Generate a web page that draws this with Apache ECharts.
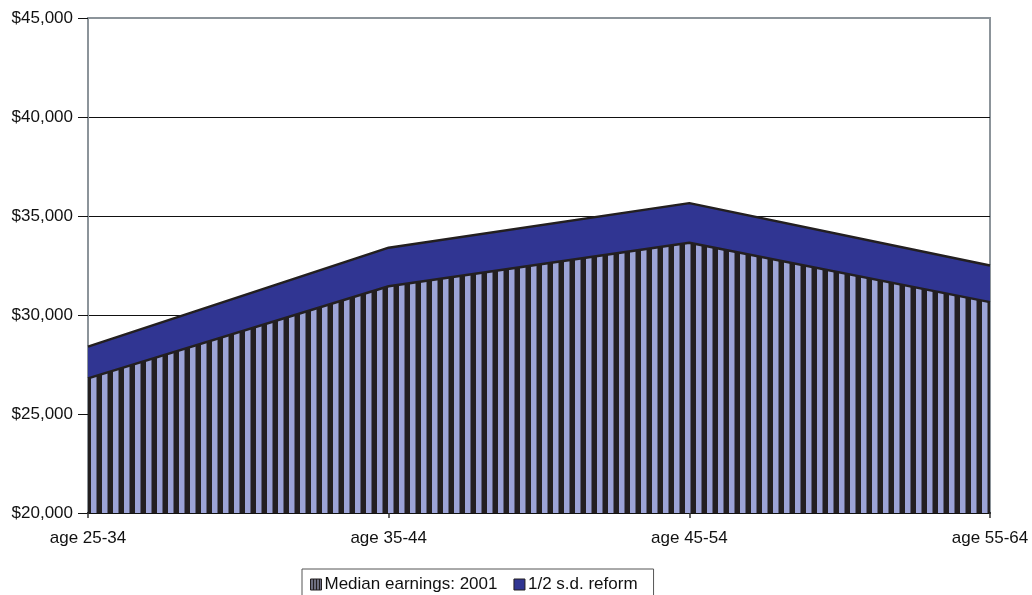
<!DOCTYPE html>
<html>
<head>
<meta charset="utf-8">
<script src="https://cdn.jsdelivr.net/npm/echarts@6/dist/echarts.min.js"></script>
<style>
html,body{margin:0;padding:0;background:#fff;}
#chart{width:1032px;height:595px;}
</style>
</head>
<body>
<div id="chart"></div>
<script>
const categories = ['age 25-34', 'age 35-44', 'age 45-54', 'age 55-64'];
const medianEarnings = [26800, 31450, 33650, 30650];
const reformEarnings = [28400, 33400, 35650, 32500];
const yTicks = [20000, 25000, 30000, 35000, 40000, 45000];

function stripePattern() {
  const c = document.createElement('canvas');
  c.width = 11; c.height = 4;
  const ctx = c.getContext('2d');
  ctx.fillStyle = '#231f20';
  ctx.fillRect(0, 0, 11, 4);
  ctx.fillStyle = '#9ca3d6';
  ctx.fillRect(3, 0, 5.5, 4);
  return c;
}
function legendStripe() {
  const c = document.createElement('canvas');
  c.width = 3; c.height = 4;
  const ctx = c.getContext('2d');
  ctx.fillStyle = '#231f20';
  ctx.fillRect(0, 0, 3, 4);
  ctx.fillStyle = '#b8bde0';
  ctx.fillRect(1, 0, 1, 4);
  return c;
}
const pattern = { image: stripePattern(), repeat: 'repeat' };

const chart = echarts.init(document.getElementById('chart'), null, { renderer: 'canvas' });
chart.setOption({
  animation: false,
  textStyle: { fontFamily: 'Liberation Sans, Arial, sans-serif' },
  grid: { left: 88, right: 42, top: 18, bottom: 82, show: true, borderColor: '#8c949a', borderWidth: 2, backgroundColor: 'transparent' },
  legend: {
    top: 569, left: 302,
    data: [
      { name: 'Median earnings: 2001', icon: 'rect', itemStyle: { color: { image: legendStripe(), repeat: 'repeat' }, borderColor: '#231f20', borderWidth: 1 } },
      { name: '1/2 s.d. reform', icon: 'rect', itemStyle: { color: '#303592', borderColor: '#231f20', borderWidth: 1 } }
    ],
    itemWidth: 11, itemHeight: 11, itemGap: 16,
    borderColor: '#555', borderWidth: 1, padding: [7, 16, 8, 8],
    textStyle: { fontSize: 17, color: '#111', padding: [0, 0, 0, -2] }
  },
  xAxis: {
    type: 'category', data: categories, boundaryGap: false,
    axisLine: { lineStyle: { color: '#111', width: 2 } },
    axisTick: { show: true, length: 5, lineStyle: { color: '#333', width: 1.5 } },
    axisLabel: { fontSize: 17, color: '#111', margin: 17, showMinLabel: true, showMaxLabel: true },
    splitLine: { show: false }
  },
  yAxis: {
    type: 'value', min: 20000, max: 45000, interval: 5000,
    axisLine: { show: true, lineStyle: { color: '#8c949a', width: 2 } },
    axisTick: { show: true, length: 10, lineStyle: { color: '#111' } },
    axisLabel: {
      fontSize: 17, color: '#111', margin: 15,
      formatter: v => yTicks.includes(v) ? '$' + v.toLocaleString('en-US') : ''
    },
    splitLine: { show: true, showMaxLine: false, showMinLine: false, lineStyle: { color: '#111', width: 1 } }
  },
  series: [
    {
      name: '1/2 s.d. reform', type: 'line', data: reformEarnings,
      symbol: 'none', z: 2,
      lineStyle: { color: '#231f20', width: 2.5 },
      itemStyle: { color: '#303592' },
      areaStyle: { color: '#303592', opacity: 1, origin: 'start' }
    },
    {
      name: 'Median earnings: 2001', type: 'line', data: medianEarnings,
      symbol: 'none', z: 3,
      lineStyle: { color: '#231f20', width: 2.5 },
      itemStyle: { color: '#9ca3d6' },
      areaStyle: { color: pattern, opacity: 1, origin: 'start' }
    }
  ]
});
</script>
</body>
</html>
